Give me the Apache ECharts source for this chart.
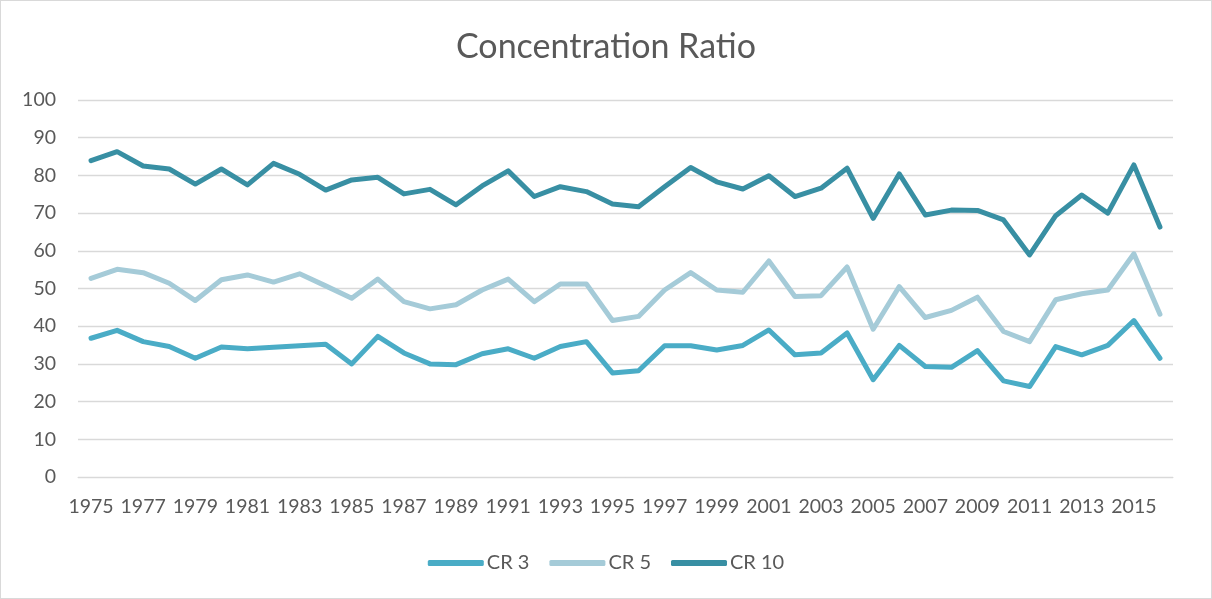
<!DOCTYPE html>
<html>
<head>
<meta charset="utf-8">
<script src="https://cdn.jsdelivr.net/npm/echarts@6/dist/echarts.min.js"></script>
<style>
html,body{margin:0;padding:0;background:#fff;}
#c{width:1210px;height:597px;border:1px solid #d9d9d9;}
</style>
</head>
<body>
<div id="c"></div>
<script>
const years = [];
for (let y = 1975; y <= 2016; y++) years.push(String(y));
const cr3 = [36.8,38.9,35.9,34.6,31.5,34.5,34.0,34.4,34.8,35.2,30.0,37.3,32.9,30.0,29.8,32.7,34.0,31.5,34.6,35.9,27.6,28.2,34.8,34.8,33.7,34.9,39.0,32.4,32.9,38.2,25.8,34.9,29.3,29.1,33.5,25.5,24.0,34.6,32.4,34.9,41.5,31.5];
const cr5 = [52.7,55.1,54.2,51.4,46.8,52.3,53.6,51.7,53.9,50.7,47.4,52.5,46.5,44.6,45.7,49.6,52.5,46.5,51.2,51.2,41.5,42.6,49.6,54.2,49.6,49.0,57.3,47.9,48.1,55.7,39.2,50.5,42.3,44.2,47.7,38.6,35.9,47.0,48.6,49.6,59.2,43.2];
const cr10 = [83.9,86.3,82.5,81.7,77.7,81.7,77.5,83.2,80.3,76.1,78.8,79.5,75.1,76.3,72.2,77.2,81.2,74.4,77.0,75.7,72.4,71.7,77.0,82.1,78.3,76.4,79.9,74.4,76.6,81.9,68.6,80.4,69.5,70.8,70.7,68.2,58.9,69.3,74.8,70.0,82.8,66.3];
const seriesNames = ['CR 3','CR 5','CR 10'];
const colors = ['#4aacc6','#a5cbd8','#388fa3'];
const font = 'Lato, "Open Sans", sans-serif';
const chart = echarts.init(document.getElementById('c'));
const mk = (name, data, color) => ({
  name, type: 'line', data, symbol: 'none', smooth: false,
  lineStyle: {width: 5, color, cap: 'round', join: 'round'},
  itemStyle: {color}
});
chart.setOption({
  animation: false,
  title: {text: 'Concentration Ratio', left: 'center', top: 24,
    textStyle: {fontFamily: font, fontSize: 34, fontWeight: 'normal', color: '#595959'}},
  legend: {bottom: 20, left: 'center', itemWidth: 56, itemHeight: 6, itemGap: 20,
    icon: 'roundRect',
    textStyle: {fontFamily: font, fontSize: 20, color: '#595959', padding: [0, 0, 0, -2]},
    data: seriesNames},
  grid: {left: 77, right: 38, top: 99, bottom: 121},
  xAxis: {type: 'category', data: years, boundaryGap: true,
    axisLine: {lineStyle: {color: '#d9d9d9', width: 1}},
    axisTick: {show: false},
    axisLabel: {interval: 1, fontFamily: font, fontSize: 19.5, color: '#595959', margin: 20}},
  yAxis: {type: 'value', min: 0, max: 100, interval: 10,
    axisLine: {show: false}, axisTick: {show: false},
    splitLine: {lineStyle: {color: '#d9d9d9', width: 1.3}},
    axisLabel: {fontFamily: font, fontSize: 19.5, color: '#595959', margin: 22}},
  series: [mk(seriesNames[0], cr3, colors[0]), mk(seriesNames[1], cr5, colors[1]), mk(seriesNames[2], cr10, colors[2])]
});
</script>
</body>
</html>
